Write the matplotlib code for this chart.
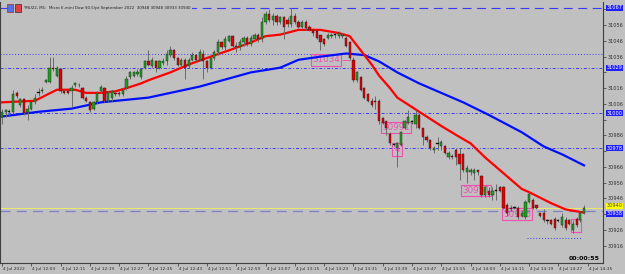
import matplotlib
matplotlib.use("Agg")
import matplotlib.pyplot as plt
import matplotlib.transforms as mtransforms
from matplotlib.patches import Rectangle
import numpy as np

# --- datos de velas (M1) ---
opens = [30998, 31001, 31001, 31001, 31013, 31005, 31009, 31001, 31003, 31007,
         31013, 31014, 31020, 31020, 31029, 31024, 31028, 31014, 31014, 31014,
         31018, 31018, 31016, 31010, 31007, 31003, 31007, 31014, 31016, 31008,
         31010, 31013, 31013, 31012, 31016, 31023, 31024, 31025, 31023, 31029,
         31033, 31030, 31033, 31029, 31032, 31033, 31037, 31040, 31035, 31031,
         31034, 31030, 31034, 31037, 31034, 31038, 31033, 31029, 31035, 31039,
         31045, 31042, 31046, 31049, 31043, 31042, 31045, 31048, 31044, 31047,
         31050, 31047, 31058, 31063, 31059, 31062, 31058, 31061, 31059, 31057,
         31062, 31058, 31055, 31058, 31055, 31053, 31052, 31050, 31047, 31048,
         31049, 31050, 31049, 31049, 31048, 31045, 31034, 31021, 31023, 31016,
         31012, 31008, 31008, 31008, 30997, 30995, 30987, 30980, 30978, 30980,
         30991, 30994, 30995, 30993, 30999, 30991, 30985, 30983, 30977, 30981,
         30979, 30979, 30972, 30973, 30977, 30974, 30974, 30963, 30963, 30962,
         30964, 30960, 30948, 30951, 30948, 30951, 30953, 30953, 30942, 30940,
         30940, 30940, 30935, 30934, 30944, 30945, 30942, 30937, 30937, 30932,
         30932, 30933, 30932, 30929, 30932, 30932, 30926, 30933, 30932, 30937]
highs = [31003, 31003, 31003, 31015, 31014, 31010, 31010, 31005, 31008, 31012,
         31016, 31017, 31022, 31036, 31036, 31030, 31029, 31015, 31014, 31018,
         31020, 31019, 31017, 31011, 31008, 31008, 31014, 31018, 31017, 31014,
         31015, 31014, 31014, 31016, 31024, 31027, 31027, 31028, 31029, 31034,
         31040, 31036, 31034, 31034, 31035, 31040, 31043, 31041, 31036, 31035,
         31035, 31035, 31039, 31038, 31041, 31040, 31034, 31036, 31040, 31047,
         31046, 31049, 31050, 31050, 31045, 31047, 31049, 31049, 31050, 31051,
         31051, 31061, 31065, 31066, 31064, 31063, 31062, 31062, 31061, 31067,
         31064, 31059, 31059, 31059, 31056, 31054, 31052, 31050, 31048, 31051,
         31051, 31052, 31052, 31051, 31049, 31046, 31036, 31027, 31024, 31017,
         31013, 31010, 31011, 31009, 30998, 30995, 30988, 30981, 30982, 30989,
         30996, 31002, 30996, 31002, 31000, 30991, 30986, 30984, 30979, 30985,
         30983, 30980, 30976, 30974, 30978, 30978, 30975, 30967, 30965, 30965,
         30964, 30961, 30954, 30953, 30953, 30955, 30954, 30954, 30943, 30942,
         30941, 30941, 30938, 30945, 30950, 30946, 30942, 30937, 30939, 30933,
         30933, 30934, 30933, 30937, 30934, 30933, 30932, 30934, 30938, 30942]
lows = [30993, 30998, 30999, 31000, 31010, 31004, 30999, 30996, 31002, 31006,
        31011, 31013, 31019, 31019, 31027, 31023, 31013, 31012, 31012, 31004,
        31017, 31017, 31009, 31007, 31001, 31002, 31006, 31013, 31007, 31007,
        31008, 31011, 31011, 31011, 31015, 31022, 31023, 31024, 31022, 31028,
        31030, 31029, 31026, 31028, 31031, 31031, 31036, 31034, 31030, 31029,
        31022, 31029, 31033, 31033, 31033, 31022, 31026, 31028, 31034, 31037,
        31041, 31040, 31045, 31042, 31039, 31040, 31043, 31043, 31043, 31046,
        31045, 31045, 31057, 31058, 31056, 31056, 31057, 31047, 31055, 31055,
        31057, 31054, 31054, 31053, 31052, 31049, 31047, 31040, 31043, 31047,
        31048, 31048, 31048, 31048, 31042, 31034, 31020, 31020, 31014, 31009,
        31007, 31004, 31003, 30993, 30993, 30986, 30980, 30979, 30966, 30979,
        30990, 30993, 30993, 30991, 30990, 30980, 30982, 30977, 30975, 30977,
        30977, 30974, 30971, 30971, 30967, 30958, 30963, 30956, 30961, 30958,
        30961, 30947, 30947, 30947, 30945, 30945, 30950, 30939, 30935, 30938,
        30939, 30933, 30934, 30933, 30943, 30939, 30939, 30934, 30931, 30930,
        30929, 30926, 30931, 30928, 30926, 30929, 30924, 30928, 30931, 30936]
closes = [31001, 31002, 31001, 31012, 31011, 31009, 31000, 31003, 31007, 31010,
          31013, 31015, 31021, 31029, 31028, 31029, 31014, 31013, 31013, 31016,
          31019, 31018, 31010, 31008, 31002, 31007, 31013, 31017, 31008, 31013,
          31014, 31012, 31012, 31015, 31022, 31026, 31026, 31026, 31028, 31033,
          31031, 31034, 31029, 31033, 31033, 31038, 31040, 31035, 31031, 31034,
          31029, 31034, 31037, 31034, 31039, 31033, 31029, 31035, 31039, 31045,
          31042, 31047, 31049, 31043, 31042, 31045, 31048, 31044, 31048, 31050,
          31047, 31058, 31063, 31059, 31062, 31058, 31061, 31055, 31057, 31062,
          31058, 31055, 31058, 31054, 31053, 31051, 31048, 31045, 31044, 31050,
          31050, 31050, 31051, 31050, 31043, 31035, 31021, 31026, 31015, 31010,
          31008, 31005, 31007, 30995, 30994, 30991, 30981, 30980, 30981, 30988,
          30995, 30998, 30995, 30999, 30991, 30985, 30983, 30978, 30978, 30981,
          30982, 30975, 30975, 30972, 30972, 30968, 30964, 30965, 30964, 30964,
          30963, 30948, 30953, 30948, 30951, 30951, 30951, 30940, 30937, 30939,
          30940, 30934, 30937, 30944, 30949, 30940, 30940, 30935, 30932, 30932,
          30930, 30927, 30932, 30934, 30927, 30930, 30930, 30929, 30937, 30940]

# --- medias moviles ---
ma_rapida_idx = [0, 9, 15, 20, 23, 27, 31, 34, 38, 40, 46, 51, 57, 62, 68, 72, 76, 81,
                 87, 92, 95, 98, 101, 103, 106, 108, 114, 120, 125, 128, 132, 136,
                 142, 144, 150, 154, 159]
ma_rapida = [31007, 31008, 31015, 31015, 31013, 31013, 31014, 31016, 31019, 31021,
             31026, 31031, 31036, 31040, 31045, 31049, 31050, 31053, 31053, 31051,
             31049, 31040, 31031, 31024, 31016, 31010, 31001, 30992, 30985, 30981,
             30972, 30964, 30952, 30950, 30943, 30939, 30937]
ma_lenta_idx = [0, 10, 19, 27, 40, 54, 68, 76, 81, 87, 94, 99, 103, 108, 114, 121,
                126, 133, 142, 148, 153, 159]
ma_lenta = [30998, 31001, 31003, 31007, 31010, 31017, 31026, 31029, 31034, 31036,
            31038, 31037, 31033, 31026, 31019, 31012, 31007, 30999, 30988, 30979,
            30974, 30967]

# --- ejes de tiempo y precio ---
etiquetas_tiempo = ["4 Jul 2022", "4 Jul 12:03", "4 Jul 12:11", "4 Jul 12:19",
                    "4 Jul 12:27", "4 Jul 12:35", "4 Jul 12:43", "4 Jul 12:51",
                    "4 Jul 12:59", "4 Jul 13:07", "4 Jul 13:15", "4 Jul 13:23",
                    "4 Jul 13:31", "4 Jul 13:39", "4 Jul 13:47", "4 Jul 13:55",
                    "4 Jul 14:03", "4 Jul 14:11", "4 Jul 14:19", "4 Jul 14:27",
                    "4 Jul 14:35"]
pos_tiempo = list(range(0, 161, 8))
precios_eje = [31066, 31056, 31046, 31036, 31026, 31016, 31006, 30996, 30986,
               30976, 30966, 30956, 30946, 30936, 30926, 30916]

# --- niveles horizontales y etiquetas ---
nivel_top = 31067
nivel_punteado = 31038
niveles_dashdot = [31029, 31000, 30978]
nivel_bid = 30940
nivel_ask = 30938
nivel_bajo = 30921
etiquetas_caja = [(88.5, 31034, "31034"), (107.7, 30991, "30991"),
                  (129.5, 30951, "30951"), (140.7, 30936, "30936")]
cajas_chicas = [(108.0, 30977, "4"), (156.8, 30929, "  ")]

BG = "#c0c0c0"
VERDE = "#1ea01e"
ROJO = "#e00000"
AZUL_NIVEL = "#3a3aff"
ROSA = "#f050b0"

fig = plt.figure(figsize=(6.25, 2.74), dpi=100, facecolor=BG)
ax = fig.add_axes([0.0, 11 / 274, 603 / 625, 261 / 274])
ax.set_facecolor(BG)

n = len(closes)
x = np.arange(n)
o = np.array(opens); h = np.array(highs); l = np.array(lows); c = np.array(closes)

# niveles (debajo de las velas)
ax.axhline(nivel_top, color=AZUL_NIVEL, lw=0.8, ls=(0, (8, 5)), zorder=1)
ax.axhline(nivel_punteado, color=AZUL_NIVEL, lw=0.7, ls=(0, (1, 2)), zorder=1)
for nv in niveles_dashdot:
    ax.axhline(nv, color=AZUL_NIVEL, lw=0.7, ls=(0, (3, 2, 1, 2)), zorder=1)
ax.axhline(nivel_bid, color="#f0f060", lw=0.6, zorder=1)
ax.axhline(nivel_ask, color="#8080c8", lw=0.9, ls=(0, (8, 5)), zorder=1)
ax.hlines(nivel_bajo, 143.4, 158.5, color=AZUL_NIVEL, lw=0.7, ls=(0, (1, 2)), zorder=1)

# etiquetas de precio tipo MT4 (cajas rosas)
for xi, yi, txt in etiquetas_caja:
    ax.text(xi, yi, txt, color=ROSA, fontsize=6.3, ha="center", va="center", zorder=2,
            bbox=dict(boxstyle="square,pad=0.15", fc="none", ec=ROSA, lw=0.8))
for xi, yi, txt in cajas_chicas:
    ax.text(xi, yi, txt, color=ROSA, fontsize=6.3, ha="center", va="center", zorder=2,
            bbox=dict(boxstyle="square,pad=0.25", fc="none", ec=ROSA, lw=0.8))
ax.hlines(31034, 92.8, 95, color=ROSA, lw=0.6, zorder=2)

# medias
ax.plot(ma_lenta_idx, ma_lenta, color="#0010ff", lw=1.6, zorder=3)
ax.plot(ma_rapida_idx, ma_rapida, color="#ff0000", lw=1.6, zorder=3)

# velas
colores = np.where(c > o, VERDE, np.where(c < o, ROJO, "#000000"))
ax.vlines(x, l, h, color="#6a6a6a", lw=0.7, zorder=4)
base = np.minimum(o, c)
alto = np.maximum(np.abs(c - o), 0.6)
ax.bar(x, alto, bottom=base - np.where(c == o, 0.3, 0), width=0.62,
       color=colores, edgecolor="#202020", linewidth=0.3, zorder=5)

# etiquetas resaltadas en el eje de precios (bid/ask un poco separadas como en MT4)
resaltados = [(nivel_top, nivel_top, "#2020ff", "white"),
              (niveles_dashdot[0], niveles_dashdot[0], "#2020ff", "white"),
              (niveles_dashdot[1], niveles_dashdot[1], "#2020ff", "white"),
              (niveles_dashdot[2], niveles_dashdot[2], "#2020ff", "white"),
              (nivel_bid, nivel_bid + 1.3, "#ffff00", "#404040"),
              (nivel_ask, nivel_ask - 1.8, "#2020ff", "white")]

# eje de precios a la derecha
ax.set_xlim(-0.55, 164.2)
ax.set_ylim(30905, 31070.7)
ax.yaxis.tick_right()
ax.set_yticks(precios_eje)
niveles_res = [r[1] for r in resaltados]
ax.set_yticklabels(["" if min(abs(p - r) for r in niveles_res) < 4.5 else str(p)
                    for p in precios_eje])
ax.tick_params(axis="y", direction="out", length=2, width=0.5, pad=1,
               labelsize=3.6, colors="#303030")
ax.set_xticks(pos_tiempo)
ax.set_xticklabels(etiquetas_tiempo, ha="left")
ax.tick_params(axis="x", direction="out", length=2, width=0.5, pad=1,
               labelsize=3.2, colors="#303030")
for lab in ax.get_xticklabels():
    lab.set_transform(lab.get_transform() + mtransforms.ScaledTranslation(1 / 100, 0, fig.dpi_scale_trans))

for s in ["left", "bottom", "right"]:
    ax.spines[s].set_color("#404040")
    ax.spines[s].set_linewidth(0.8)
ax.spines["top"].set_visible(False)

trans = mtransforms.blended_transform_factory(ax.transAxes, ax.transData)
for nv, ypos, fc, tc in resaltados:
    ax.text(1.006, ypos, str(nv), transform=trans, fontsize=3.6, color=tc, va="center",
            ha="left", zorder=6, clip_on=False,
            bbox=dict(boxstyle="square,pad=0.1", fc=fc, ec="none"))

# titulo y contador
fig.text(23 / 625, 1 - 8 / 274, "YMU22, M1:  Micro E-mini Dow $0.5/pt September 2022  30948 30948 30933 30940",
         fontsize=2.9, color="#202020", va="center", ha="left",
         bbox=dict(boxstyle="square,pad=0.3", fc=BG, ec="none"))
fig.patches.append(Rectangle((7 / 625, 1 - 12 / 274), 6 / 625, 8 / 274, transform=fig.transFigure,
                             fc="#5a6ee0", ec="#a03030", lw=0.5))
fig.patches.append(Rectangle((15 / 625, 1 - 12 / 274), 6 / 625, 8 / 274, transform=fig.transFigure,
                             fc="#e04040", ec="#303030", lw=0.5))
fig.text(600 / 625, 1 - 258 / 274, "00:00:55", fontsize=4.5, fontweight="bold",
         color="black", ha="right", va="center")

plt.savefig("out.png", dpi=100, facecolor=BG)
